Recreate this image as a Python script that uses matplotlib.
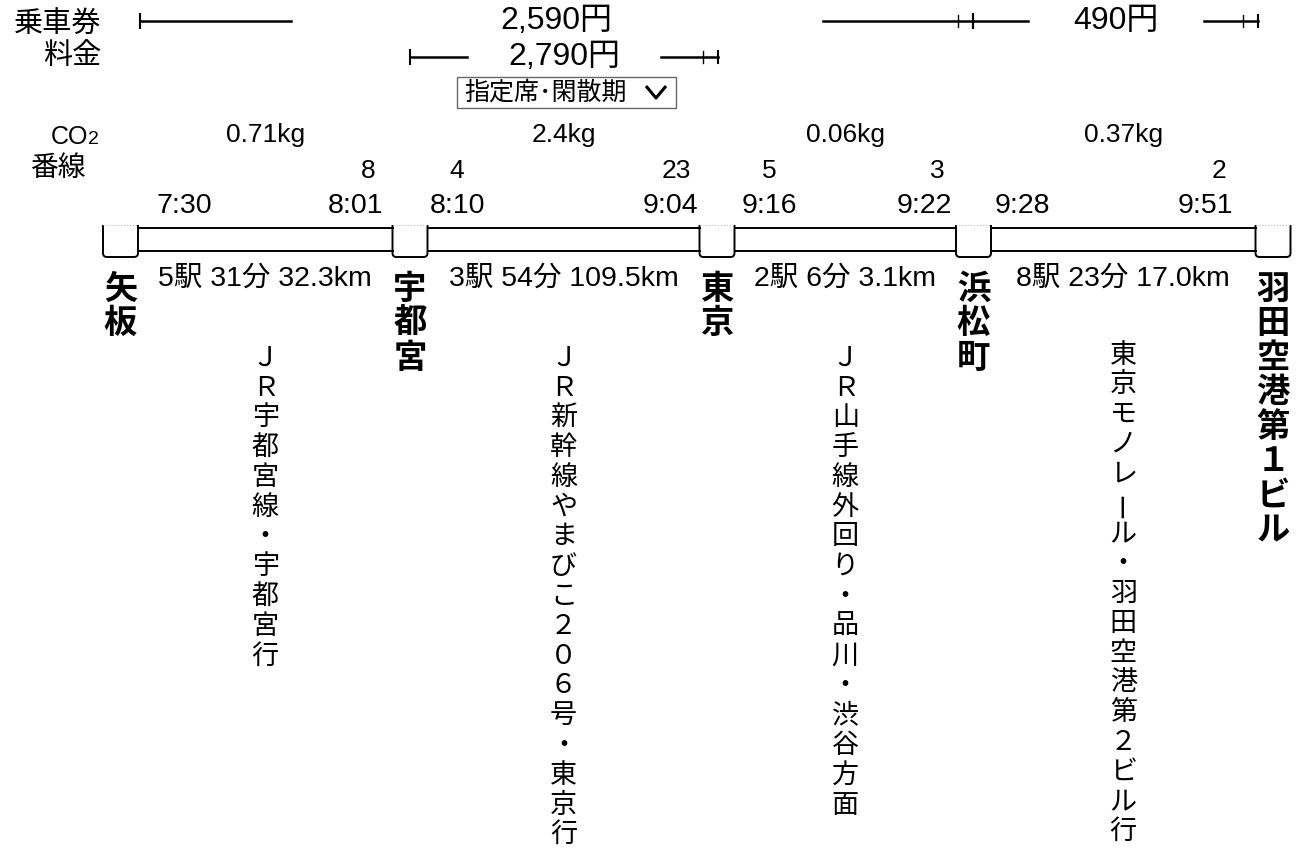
import matplotlib
matplotlib.use('Agg')
import matplotlib.pyplot as plt
from matplotlib.path import Path
from matplotlib.patches import PathPatch, Rectangle

JP = ['Noto Sans CJK JP', 'DejaVu Sans']
LAT = ['Liberation Sans', 'Noto Sans CJK JP', 'DejaVu Sans']

# --- data ---
stations = ['矢板', '宇都宮', '東京', '浜松町', '羽田空港第１ビル']
dep_times = ['7:30', '8:10', '9:16', '9:28']
arr_times = ['8:01', '9:04', '9:22', '9:51']
dep_tracks = ['', '4', '5', '']
arr_tracks = ['8', '23', '3', '2']
n_stops = [5, 3, 2, 8]
minutes = [31, 54, 6, 23]
km = [32.3, 109.5, 3.1, 17.0]
co2 = [0.71, 2.4, 0.06, 0.37]
lines = ['ＪＲ宇都宮線・宇都宮行',
         'ＪＲ新幹線やまびこ２０６号・東京行',
         'ＪＲ山手線外回り・品川・渋谷方面',
         '東京モノレール・羽田空港第２ビル行']
ticket_fares = [2590, 490]
express_fares = [2790]
seat_option = '指定席･閑散期'

# --- layout (pixels) ---
box_x = [120.5, 410, 717, 973.5, 1273]
box_hw = 17.5
box_top, box_bot = 225, 257
track_top, track_bot = 228, 251
dep_x = [157, 430, 742, 995]
arr_x = [383, 698, 952, 1233]
ticket_span = [(140, 973, 266), (973, 1258, 88)]
express_span = [(410, 718, 97)]
line_top = [358, 358, 358, 355]

fig = plt.figure(figsize=(12.98, 8.63), dpi=100)
ax = fig.add_axes([0, 0, 1, 1])
ax.set_xlim(0, 1298)
ax.set_ylim(863, 0)
ax.axis('off')

# left labels
ax.text(101, 24, '乗車券', family=JP, fontsize=21, ha='right', va='center')
ax.text(101, 56, '料金', family=JP, fontsize=21, ha='right', va='center')
ax.text(88, 137, 'CO', family=LAT, fontsize=18, ha='right', va='center')
ax.text(88, 140, '2', family=LAT, fontsize=14, ha='left', va='center')
ax.text(86, 168, '番線', family=JP, fontsize=20, ha='right', va='center')


def fare_bar(x0, x1, y, value, gap):
    xm = (x0 + x1) / 2
    ax.plot([x0, xm - gap], [y, y], color='k', lw=1.8)
    ax.plot([xm + gap, x1], [y, y], color='k', lw=1.8)
    ax.plot([x0, x0], [y - 7, y + 7], color='k', lw=1.5)
    ax.plot([x1 - 15, x1 - 15], [y - 6, y + 6], color='k', lw=1)
    ax.plot([x1, x1], [y - 6, y + 6], color='k', lw=1.5)
    ax.text(xm, y, f'{value:,}円', family=LAT, fontsize=23,
            ha='center', va='center')


for (x0, x1, g), v in zip(ticket_span, ticket_fares):
    fare_bar(x0, x1, 21, v, g)
for (x0, x1, g), v in zip(express_span, express_fares):
    fare_bar(x0, x1, 57, v, g)

# seat option button
ax.add_patch(Rectangle((457, 77), 219, 31, fill=False, ec='#666666', lw=1))
ax.text(464, 93, seat_option, family=JP, fontsize=18, ha='left', va='center')
ax.plot([646, 656, 666], [86, 98, 86], color='k', lw=2.2, solid_capstyle='butt')

# track and station cups
for i in range(len(box_x) - 1):
    xa, xb = box_x[i] + box_hw, box_x[i + 1] - box_hw
    ax.plot([xa, xb], [track_top, track_top], color='k', lw=1.4)
    ax.plot([xa, xb], [track_bot, track_bot], color='k', lw=1.4)

for xc in box_x:
    l, r, rad = xc - box_hw, xc + box_hw, 4
    verts = [(l, box_top), (l, box_bot - rad), (l, box_bot), (l + rad, box_bot),
             (r - rad, box_bot), (r, box_bot), (r, box_bot - rad), (r, box_top)]
    codes = [Path.MOVETO, Path.LINETO, Path.CURVE3, Path.CURVE3,
             Path.LINETO, Path.CURVE3, Path.CURVE3, Path.LINETO]
    ax.add_patch(PathPatch(Path(verts, codes), fill=False, ec='k', lw=1.4))
    ax.plot([l, r], [box_top, box_top], color='#bbbbbb', lw=0.8, ls=':')


def vertical(x, y0, s, pitch, **kw):
    for i, ch in enumerate(s):
        rot = 90 if ch == 'ー' else 0
        ax.text(x, y0 + i * pitch, ch, ha='center', va='center',
                rotation=rot, **kw)


for xc, name in zip(box_x, stations):
    vertical(xc, 289, name, 34.5, family=JP, fontsize=24, fontweight='bold')

for i in range(len(dep_times)):
    xm = (box_x[i] + box_x[i + 1]) / 2
    ax.text(xm, 135, f'{co2[i]:g}kg', family=LAT, fontsize=19,
            ha='center', va='center')
    ax.text(dep_x[i], 206, dep_times[i], family=LAT, fontsize=20.5,
            ha='left', va='center')
    ax.text(arr_x[i], 206, arr_times[i], family=LAT, fontsize=20.5,
            ha='right', va='center')
    if dep_tracks[i]:
        ax.text(dep_x[i] + 27, 171, dep_tracks[i], family=LAT, fontsize=19,
                ha='center', va='center')
    if arr_tracks[i]:
        ax.text(arr_x[i] - 7, 171, arr_tracks[i], family=LAT, fontsize=19,
                ha='right', va='center')
    ax.text(xm, 279, f'{n_stops[i]}駅 {minutes[i]}分 {km[i]:.1f}km',
            family=LAT, fontsize=20.5, ha='center', va='center')
    vertical(xm, line_top[i], lines[i], 29.8, family=JP, fontsize=19.5)

fig.savefig('out.png', dpi=100, facecolor='white')
